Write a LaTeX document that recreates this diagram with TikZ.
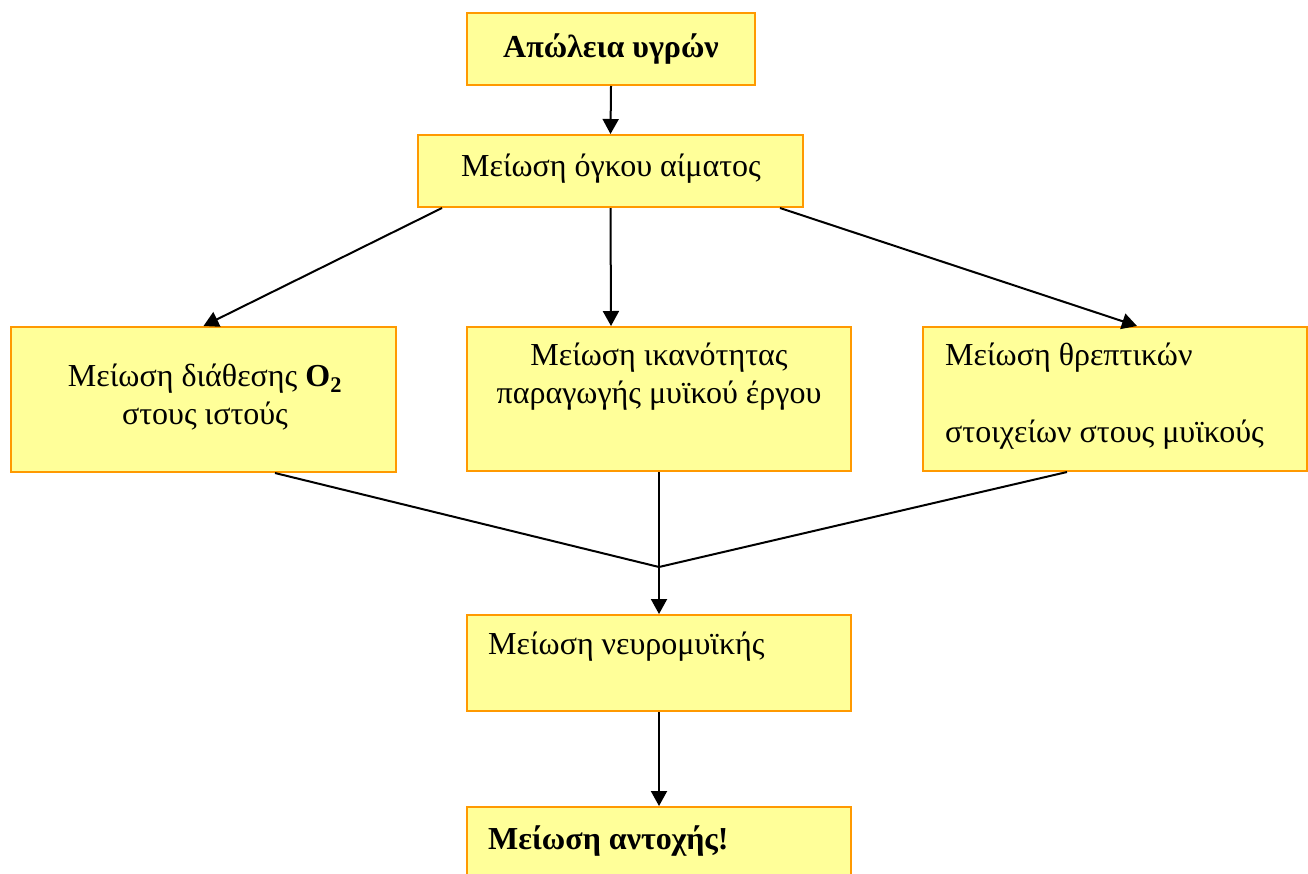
\documentclass[tikz,border=0pt]{standalone}
\usepackage{fontspec}
\setmainfont{Liberation Serif}
\usetikzlibrary{arrows.meta}
\definecolor{boxfill}{HTML}{FFFF99}
\definecolor{boxline}{HTML}{FF9900}
\begin{document}
\begin{tikzpicture}[x=1pt,y=-1pt,
  box/.style={draw=boxline, fill=boxfill, line width=2pt, inner sep=0pt},
  txt/.style={font=\fontsize{32}{38}\selectfont, inner sep=0pt},
  conn/.style={line width=2pt, draw=black},
  arr/.style={conn, -{Triangle[width=16pt,length=15pt]}}]
\useasboundingbox (0,0) rectangle (1308,873);
% boxes
\node[box, minimum width=288pt, minimum height=72pt] (t) at (611,49) {};
\node[box, minimum width=385pt, minimum height=72pt] (b2) at (610.5,171) {};
\node[box, minimum width=385pt, minimum height=145pt] (l) at (203.5,399.5) {};
\node[box, minimum width=384pt, minimum height=144pt] (m) at (659,399) {};
\node[box, minimum width=384pt, minimum height=144pt] (r) at (1115,399) {};
\node[box, minimum width=384pt, minimum height=96pt] (n) at (659,663) {};
\node[box, minimum width=384pt, minimum height=80pt] (bot) at (659,847) {};
% texts
\node[txt, font=\fontsize{32}{38}\selectfont\bfseries] (tt) at (611,49) {Απώλεια υγρών};
\node[txt] (b2t) at (611,169) {Μείωση όγκου αίματος};
\node[txt, align=center] (lt) at (205,397) {Μείωση διάθεσης \textbf{O\textsubscript{2}}\\στους ιστούς};
\node[txt, align=center] (mt) at (659,377) {Μείωση ικανότητας\\παραγωγής μυϊκού έργου};
\node[txt, anchor=west] (rt1) at (945,358) {Μείωση θρεπτικών};
\node[txt, anchor=west] (rt2) at (945,435) {στοιχείων στους μυϊκούς};
\node[txt, anchor=west] (nt) at (488,647) {Μείωση νευρομυϊκής};
\node[txt, font=\fontsize{32}{38}\selectfont\bfseries, anchor=west] (bt) at (488,841) {Μείωση αντοχής!};
% junction
\coordinate (j) at (659,567);
% connectors
\draw[arr] (t.south) -- (b2.north);
\draw[arr] ([xshift=25pt]b2.south west) -- (l.north);
\draw[arr] (b2.south) -- ([xshift=-48pt]m.north);
\draw[arr] ([xshift=-24pt]b2.south east) -- ([xshift=22pt]r.north);
\draw[conn] ([xshift=71.5pt]l.south) -- (j);
\draw[conn] (m.south) -- (j);
\draw[conn] ([xshift=-48pt]r.south) -- (j);
\draw[arr] (j) -- (n.north);
\draw[arr] (n.south) -- (bot.north);
\end{tikzpicture}
\end{document}
